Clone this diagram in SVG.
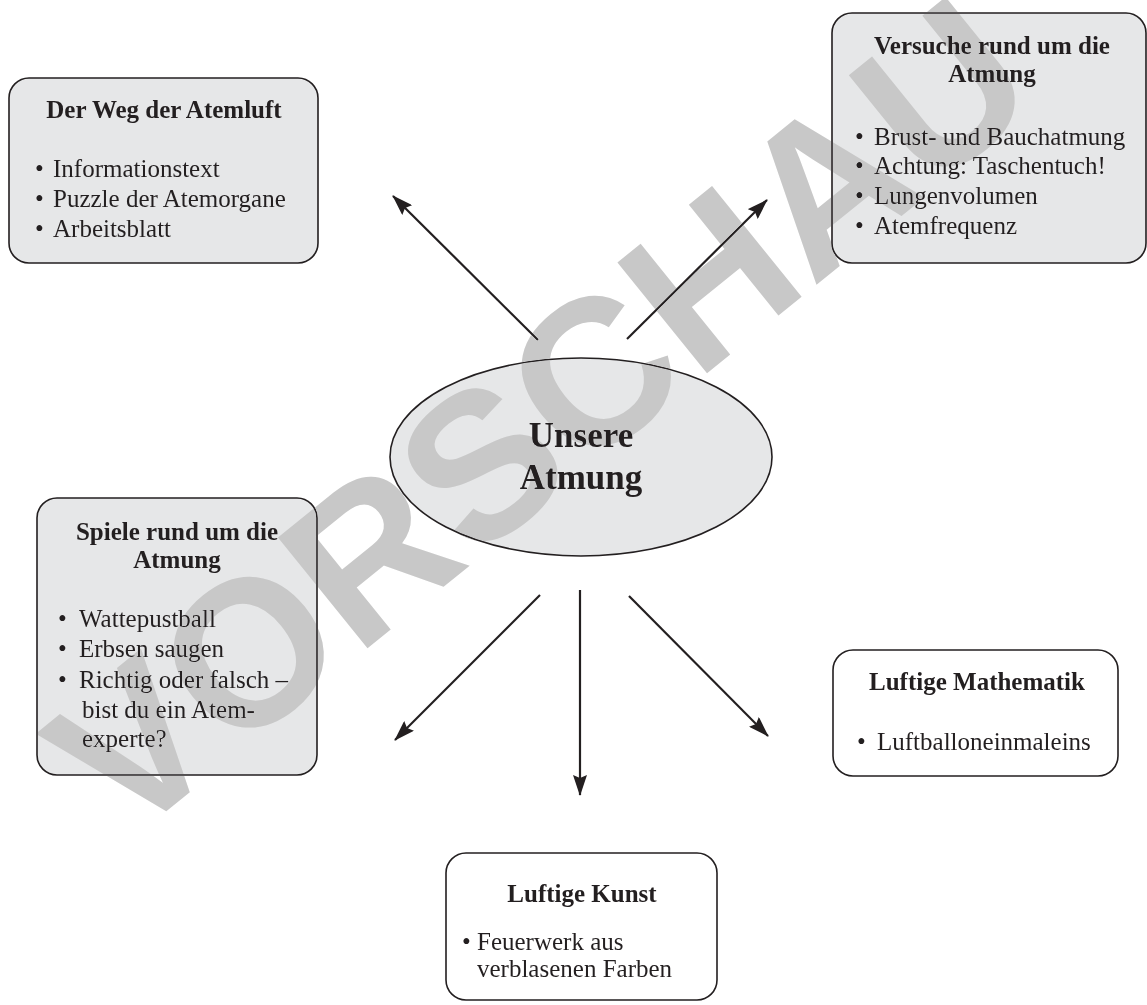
<svg xmlns="http://www.w3.org/2000/svg" width="1147" height="1005" viewBox="0 0 1147 1005">
<style>
.box{fill:#e6e7e8;stroke:#231f20;stroke-width:1.6}
.wbox{fill:#ffffff;stroke:#231f20;stroke-width:1.6}
.t{font-family:"Liberation Serif","Times New Roman",serif;font-size:25px;fill:#231f20}
.b{font-weight:bold}
.c{text-anchor:middle}
.big{font-size:35px}
.arr{stroke:#231f20;stroke-width:2.2;fill:none;marker-end:url(#ah)}
.wm{font-family:"Liberation Sans",Arial,sans-serif;font-weight:bold;font-size:207px;fill:#c8c8c8;text-anchor:middle}
</style>
<defs>
<marker id="ah" markerUnits="userSpaceOnUse" markerWidth="22" markerHeight="14" refX="20" refY="7" orient="auto">
<path d="M0,0 L21,7 L0,14 L3,7 z" fill="#231f20"/>
</marker>
</defs>
<rect width="1147" height="1005" fill="#ffffff"/>
<g id="node-weg">
<rect class="box" x="9" y="78" width="309" height="185" rx="20"/>
<text class="t b c" x="164" y="118">Der Weg der Atemluft</text>
<text class="t" x="35" y="177">•</text><text class="t" x="53" y="177">Informationstext</text>
<text class="t" x="35" y="207">•</text><text class="t" x="53" y="207">Puzzle der Atemorgane</text>
<text class="t" x="35" y="237">•</text><text class="t" x="53" y="237">Arbeitsblatt</text>
</g>
<g id="node-versuche">
<rect class="box" x="832" y="13" width="314" height="250" rx="20"/>
<text class="t b c" x="992" y="54">Versuche rund um die</text>
<text class="t b c" x="992" y="82">Atmung</text>
<text class="t" x="855" y="145">•</text><text class="t" x="874" y="145">Brust- und Bauchatmung</text>
<text class="t" x="855" y="174">•</text><text class="t" x="874" y="174">Achtung: Taschentuch!</text>
<text class="t" x="855" y="204">•</text><text class="t" x="874" y="204">Lungenvolumen</text>
<text class="t" x="855" y="234">•</text><text class="t" x="874" y="234">Atemfrequenz</text>
</g>
<g id="node-center">
<ellipse class="box" cx="581" cy="457" rx="191" ry="99"/>
<text class="t b c big" x="581" y="447">Unsere</text>
<text class="t b c big" x="581" y="489">Atmung</text>
</g>
<g id="node-spiele">
<rect class="box" x="37" y="498" width="280" height="277" rx="20"/>
<text class="t b c" x="177" y="540">Spiele rund um die</text>
<text class="t b c" x="177" y="568">Atmung</text>
<text class="t" x="58" y="627">•</text><text class="t" x="79" y="627">Wattepustball</text>
<text class="t" x="58" y="657">•</text><text class="t" x="79" y="657">Erbsen saugen</text>
<text class="t" x="58" y="688">•</text><text class="t" x="79" y="688">Richtig oder falsch –</text>
<text class="t" x="82" y="718">bist du ein Atem-</text>
<text class="t" x="82" y="747">experte?</text>
</g>
<g id="node-mathematik">
<rect class="wbox" x="833" y="650" width="285" height="126" rx="20"/>
<text class="t b c" x="977" y="690">Luftige Mathematik</text>
<text class="t" x="857" y="750">•</text><text class="t" x="877" y="750">Luftballoneinmaleins</text>
</g>
<g id="node-kunst">
<rect class="wbox" x="446" y="853" width="271" height="147" rx="20"/>
<text class="t b c" x="582" y="902">Luftige Kunst</text>
<text class="t" x="462" y="950">•</text><text class="t" x="477" y="950">Feuerwerk aus</text>
<text class="t" x="477" y="977">verblasenen Farben</text>
</g>
<g id="connectors">
<line class="arr" x1="538" y1="340" x2="393" y2="196"/>
<line class="arr" x1="627" y1="339" x2="767" y2="200"/>
<line class="arr" x1="540" y1="595" x2="395" y2="740"/>
<line class="arr" x1="580" y1="590" x2="580" y2="795"/>
<line class="arr" x1="629" y1="596" x2="768" y2="736"/>
</g>
<g id="watermark" style="mix-blend-mode:darken">
<text class="wm" transform="translate(538,415) rotate(-39)" x="0" y="74">VORSCHAU</text>
</g>
</svg>
